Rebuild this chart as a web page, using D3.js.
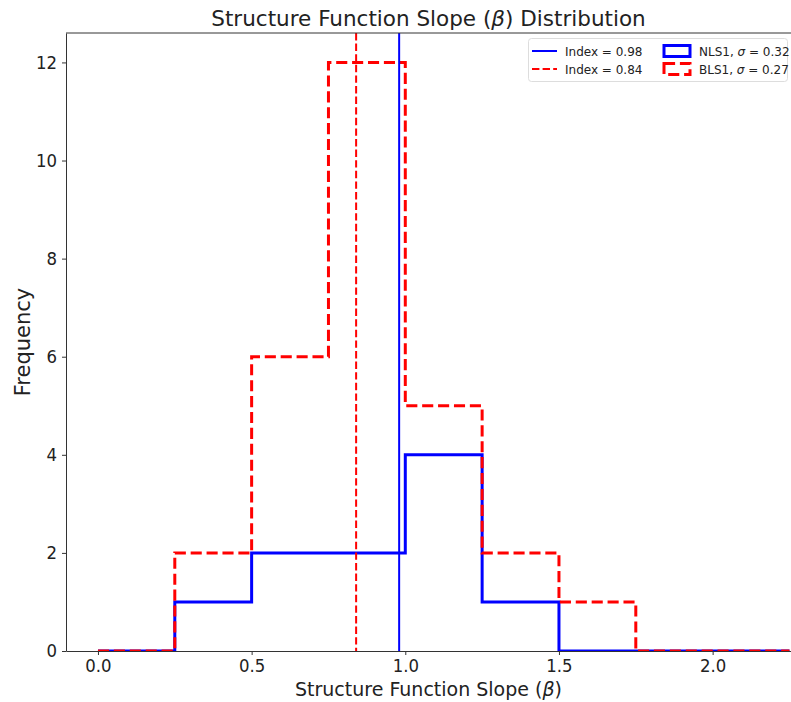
<!DOCTYPE html>
<html>
<head>
<meta charset="utf-8">
<script src="https://cdn.jsdelivr.net/npm/d3@7"></script>
<style>
  body { margin: 0; background: #fff; }
  svg { font-family: "DejaVu Sans", sans-serif; }
</style>
</head>
<body>
<svg id="chart" width="791" height="702"></svg>
<script>
// Histogram bin edges and counts per sample
const binEdges = [0, 0.25, 0.5, 0.75, 1.0, 1.25, 1.5, 1.75, 2.0, 2.25];
const nls1Counts = [0, 1, 2, 2, 4, 1, 0, 0, 0];
const bls1Counts = [0, 2, 6, 12, 5, 2, 1, 0, 0];
const nls1Index = 0.98;
const bls1Index = 0.84;
const nls1Sigma = 0.32;
const bls1Sigma = 0.27;
const xTicks = [0.0, 0.5, 1.0, 1.5, 2.0];
const yTicks = [0, 2, 4, 6, 8, 10, 12];

const svg = d3.select("#chart");
const m = { left: 66, right: 791, top: 33, bottom: 651 };

const x = d3.scaleLinear().domain([-0.104, 2.255]).range([m.left, m.right]);
const y = d3.scaleLinear().domain([0, 12.6]).range([m.bottom, m.top]);

svg.append("defs").append("clipPath").attr("id", "plot")
  .append("rect").attr("x", m.left).attr("y", m.top)
  .attr("width", m.right - m.left).attr("height", m.bottom - m.top);

// step outline of a histogram
function stepPoints(counts) {
  const pts = [[binEdges[0], 0]];
  counts.forEach((c, i) => {
    pts.push([binEdges[i], c]);
    pts.push([binEdges[i + 1], c]);
  });
  pts.push([binEdges[binEdges.length - 1], 0]);
  return pts;
}
const line = d3.line().x(d => x(d[0])).y(d => y(d[1]));

const plot = svg.append("g").attr("clip-path", "url(#plot)");

plot.append("path").datum(stepPoints(nls1Counts))
  .attr("d", line).attr("fill", "none")
  .attr("stroke", "#0000ff").attr("stroke-width", 3)
  .attr("stroke-linejoin", "miter");

plot.append("path").datum(stepPoints(bls1Counts))
  .attr("d", line).attr("fill", "none")
  .attr("stroke", "#ff0000").attr("stroke-width", 3)
  .attr("stroke-dasharray", "11.1,4.8")
  .attr("stroke-linejoin", "miter");

// mean index markers
plot.append("line")
  .attr("x1", x(nls1Index)).attr("x2", x(nls1Index))
  .attr("y1", m.top).attr("y2", m.bottom)
  .attr("stroke", "#0000ff").attr("stroke-width", 2);
plot.append("line")
  .attr("x1", x(bls1Index)).attr("x2", x(bls1Index))
  .attr("y1", m.top).attr("y2", m.bottom)
  .attr("stroke", "#ff0000").attr("stroke-width", 2)
  .attr("stroke-dasharray", "7.4,3.2");

// axes
const xAxis = svg.append("g").attr("transform", `translate(0,${m.bottom})`)
  .call(d3.axisBottom(x).tickValues(xTicks).tickFormat(d3.format(".1f"))
    .tickSizeInner(4).tickSizeOuter(0).tickPadding(4));
const yAxis = svg.append("g").attr("transform", `translate(${m.left},0)`)
  .call(d3.axisLeft(y).tickValues(yTicks).tickFormat(d3.format("d"))
    .tickSizeInner(4).tickSizeOuter(0).tickPadding(5));
[xAxis, yAxis].forEach(a => {
  a.selectAll("text").attr("font-family", "DejaVu Sans").attr("font-size", 18).attr("fill", "#222");
  a.selectAll("line").attr("stroke", "#333");
  a.select(".domain").attr("stroke", "#333").attr("stroke-width", 1);
});
// slightly narrow tick labels, scaled about their anchor point
xAxis.selectAll(".tick text").attr("transform", "scale(0.92,1)");
yAxis.selectAll(".tick text").each(function () {
  const tx = +d3.select(this).attr("x");
  d3.select(this).attr("transform", `translate(${tx},0) scale(0.92,1) translate(${-tx},0)`);
});

// top spine
svg.append("line").attr("x1", m.left).attr("x2", m.right)
  .attr("y1", m.top).attr("y2", m.top).attr("stroke", "#333");

// titles
const title = svg.append("text").attr("x", (m.left + m.right) / 2).attr("y", 26)
  .attr("text-anchor", "middle").attr("font-size", 21.5).attr("fill", "#222");
title.append("tspan").text("Structure Function Slope (");
title.append("tspan").attr("font-style", "italic").text("β");
title.append("tspan").text(") Distribution");

const xl = svg.append("text").attr("x", (m.left + m.right) / 2).attr("y", 696)
  .attr("text-anchor", "middle").attr("font-size", 19).attr("fill", "#222");
xl.append("tspan").text("Structure Function Slope (");
xl.append("tspan").attr("font-style", "italic").text("β");
xl.append("tspan").text(")");

svg.append("text").attr("transform", `translate(30,${(m.top + m.bottom) / 2}) rotate(-90)`)
  .attr("text-anchor", "middle").attr("font-size", 21).attr("fill", "#222")
  .text("Frequency");

// legend
const lg = svg.append("g");
lg.append("rect").attr("x", 528.5).attr("y", 38.5).attr("width", 259).attr("height", 43)
  .attr("rx", 3).attr("fill", "#fff").attr("fill-opacity", 0.8).attr("stroke", "#ddd");
const rowY = [51, 69];
lg.append("line").attr("x1", 532).attr("x2", 557).attr("y1", rowY[0]).attr("y2", rowY[0])
  .attr("stroke", "#0000ff").attr("stroke-width", 2);
lg.append("line").attr("x1", 532).attr("x2", 557).attr("y1", rowY[1]).attr("y2", rowY[1])
  .attr("stroke", "#ff0000").attr("stroke-width", 2).attr("stroke-dasharray", "7.4,3.2");
lg.append("text").attr("x", 565).attr("y", rowY[0] + 4.5).attr("font-size", 12).attr("fill", "#222")
  .text(`Index = ${nls1Index.toFixed(2)}`);
lg.append("text").attr("x", 565).attr("y", rowY[1] + 4.5).attr("font-size", 12).attr("fill", "#222")
  .text(`Index = ${bls1Index.toFixed(2)}`);
lg.append("rect").attr("x", 664).attr("y", rowY[0] - 5.5).attr("width", 26).attr("height", 11)
  .attr("fill", "none").attr("stroke", "#0000ff").attr("stroke-width", 3);
lg.append("rect").attr("x", 664).attr("y", rowY[1] - 5.5).attr("width", 26).attr("height", 11)
  .attr("fill", "none").attr("stroke", "#ff0000").attr("stroke-width", 3)
  .attr("stroke-dasharray", "11.1,4.8");
[["NLS1", nls1Sigma, rowY[0]], ["BLS1", bls1Sigma, rowY[1]]].forEach(([name, s, yy]) => {
  const t = lg.append("text").attr("x", 699).attr("y", yy + 4.5).attr("font-size", 12).attr("fill", "#222");
  t.append("tspan").text(`${name}, `);
  t.append("tspan").attr("font-style", "italic").text("σ");
  t.append("tspan").text(` = ${s.toFixed(2)}`);
});
</script>
</body>
</html>
